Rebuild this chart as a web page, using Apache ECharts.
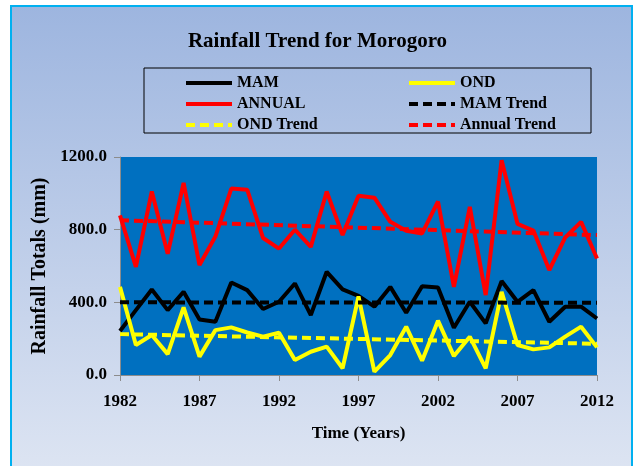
<!DOCTYPE html>
<html>
<head>
<meta charset="utf-8">
<script src="https://cdn.jsdelivr.net/npm/echarts@6/dist/echarts.min.js"></script>
<style>
html,body{margin:0;padding:0;background:#ffffff;}
#chart{width:635px;height:466px;}
</style>
</head>
<body>
<div id="chart"></div>
<script>
var years = ['1982','1983','1984','1985','1986','1987','1988','1989','1990','1991','1992','1993','1994','1995','1996','1997','1998','1999','2000','2001','2002','2003','2004','2005','2006','2007','2008','2009','2010','2011','2012'];
var mam = [242,357,471,357,458,306,293,509,467,363,403,504,330,568,471,436,376,485,343,489,482,260,403,284,517,403,467,293,376,376,311];
var ond = [485,165,220,115,372,101,247,262,234,211,233,82,128,156,37,432,18,110,266,79,299,104,211,37,458,165,141,152,211,266,152];
var annual = [879,595,1010,667,1057,605,762,1026,1020,754,696,800,705,1010,770,987,976,843,794,779,955,485,925,440,1182,832,795,578,757,843,641];
// trend line end values (first year, last year)
var mamTrend = [400, 398];
var ondTrend = [225, 172];
var annualTrend = [852, 770];
var yTicks = [0, 400, 800, 1200];

var FONT = '"Liberation Serif","Times New Roman",serif';
function trendData(t){ return [[years[0], t[0]], [years[years.length-1], t[1]]]; }

var chart = echarts.init(document.getElementById('chart'), null, {renderer:'canvas'});
var dash = [9,5];
var legendCommon = {orient:'vertical', top:70, itemWidth:46, itemHeight:14, itemGap:5,
  itemStyle:{opacity:0},
  lineStyle:{width:4},
  textStyle:{fontFamily:FONT, fontWeight:'bold', fontSize:16, color:'#000'}};
chart.setOption({
  animation:false,
  backgroundColor:'#ffffff',
  graphic:[
    {type:'rect', z:-100, shape:{x:11, y:6, width:621, height:480},
     style:{fill:new echarts.graphic.LinearGradient(0,0,0,1,[{offset:0,color:'#9db5df'},{offset:1,color:'#dfe6f3'}]), stroke:'#00b0f0', lineWidth:2}},
    {type:'rect', z:-50, shape:{x:144, y:68, width:447, height:65},
     style:{fill:'none', stroke:'#000000', lineWidth:1}}
  ],
  title:{text:'Rainfall Trend for Morogoro', left:'center', top:26,
    textStyle:{fontFamily:FONT, fontWeight:'bold', fontSize:21, color:'#000'}},
  legend:[
    Object.assign({left:179, data:['MAM','ANNUAL','OND Trend']}, legendCommon),
    Object.assign({left:402, data:['OND','MAM Trend','Annual Trend']}, legendCommon)
  ],
  grid:{left:120, right:38, top:157, bottom:91, show:true, backgroundColor:'#0070c0', borderWidth:0},
  xAxis:{type:'category', data:years, boundaryGap:false,
    name:'Time (Years)', nameLocation:'middle', nameGap:50,
    nameTextStyle:{fontFamily:FONT, fontWeight:'bold', fontSize:17, color:'#000'},
    axisLine:{lineStyle:{color:'#8c8c8c', width:1}},
    axisTick:{interval:4, length:6, lineStyle:{color:'#8c8c8c'}},
    axisLabel:{interval:4, margin:18, fontFamily:FONT, fontWeight:'bold', fontSize:17, color:'#000'},
    splitLine:{show:false}},
  yAxis:{type:'value', min:yTicks[0], max:yTicks[yTicks.length-1], interval:400,
    name:'Rainfall Totals (mm)', nameLocation:'middle', nameGap:66,
    nameTextStyle:{fontFamily:FONT, fontWeight:'bold', fontSize:20, color:'#000'},
    axisLine:{show:true, lineStyle:{color:'#8c8c8c', width:1}},
    axisTick:{show:true, length:6, lineStyle:{color:'#8c8c8c'}},
    axisLabel:{margin:13, fontFamily:FONT, fontWeight:'bold', fontSize:17, color:'#000',
      formatter:function(v){return v.toFixed(1);}},
    splitLine:{show:false}},
  series:[
    {name:'MAM', type:'line', data:mam, symbol:'none', lineStyle:{color:'#000000', width:4}, itemStyle:{color:'#000000'}},
    {name:'OND', type:'line', data:ond, symbol:'none', lineStyle:{color:'#ffff00', width:4}, itemStyle:{color:'#ffff00'}},
    {name:'ANNUAL', type:'line', data:annual, symbol:'none', lineStyle:{color:'#ff0000', width:4}, itemStyle:{color:'#ff0000'}},
    {name:'MAM Trend', type:'line', data:trendData(mamTrend), symbol:'none', lineStyle:{color:'#000000', width:4, type:dash}, itemStyle:{color:'#000000'}},
    {name:'OND Trend', type:'line', data:trendData(ondTrend), symbol:'none', lineStyle:{color:'#ffff00', width:4, type:dash}, itemStyle:{color:'#ffff00'}},
    {name:'Annual Trend', type:'line', data:trendData(annualTrend), symbol:'none', lineStyle:{color:'#ff0000', width:4, type:dash}, itemStyle:{color:'#ff0000'}}
  ]
});
</script>
</body>
</html>
